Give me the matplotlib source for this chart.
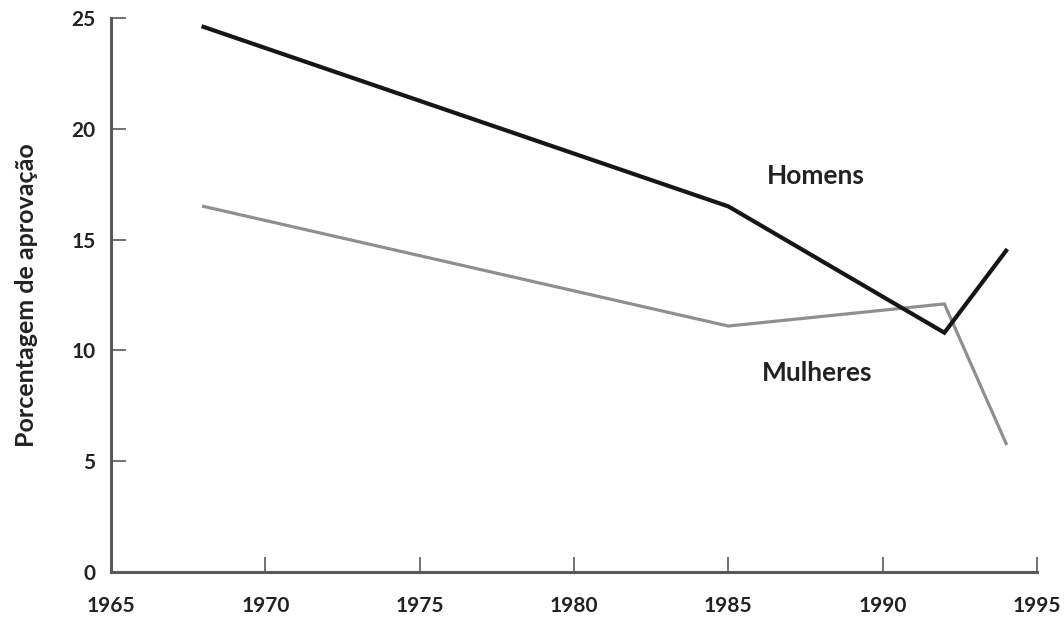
import matplotlib
matplotlib.use("Agg")
import matplotlib.pyplot as plt

years = [1968, 1985, 1992, 1994]
homens = [24.6, 16.5, 10.8, 14.5]
mulheres = [16.5, 11.1, 12.1, 5.8]
xticks = [1965, 1970, 1975, 1980, 1985, 1990, 1995]
yticks = [0, 5, 10, 15, 20, 25]

plt.rcParams['font.family'] = ['Lato', 'DejaVu Sans']

fig = plt.figure(figsize=(10.64, 6.24), dpi=100)
ax = fig.add_axes([0.1043, 0.0833, 0.8703, 0.8878])

ax.plot(years, mulheres, color='#8f8f8f', lw=2.3, solid_joinstyle='miter')
ax.plot(years, homens, color='#161616', lw=3.0, solid_joinstyle='miter')

ax.set_xlim(1965, 1995)
ax.set_ylim(0, 25)
ax.set_xticks(xticks)
ax.set_yticks(yticks)

for s in ['top', 'right']:
    ax.spines[s].set_visible(False)
for s in ['left', 'bottom']:
    ax.spines[s].set_color('#5a5a5a')
    ax.spines[s].set_linewidth(2.2)

ax.tick_params(direction='in', length=11, width=1.2, color='#5a5a5a',
               labelsize=15, labelcolor='#222222')
ax.tick_params(axis='x', pad=17)
ax.tick_params(axis='y', pad=11)
for lbl in ax.get_xticklabels() + ax.get_yticklabels():
    lbl.set_fontweight('bold')

ax.set_ylabel('Porcentagem de aprovação', fontsize=18, fontweight='bold',
              color='#222222', labelpad=24)

ax.text(1986.25, 17.85, 'Homens', fontsize=19, fontweight='bold', color='#222222',
        va='center', ha='left')
ax.text(1986.1, 9.0, 'Mulheres', fontsize=19, fontweight='bold', color='#222222',
        va='center', ha='left')

fig.savefig('out.png', dpi=100)
